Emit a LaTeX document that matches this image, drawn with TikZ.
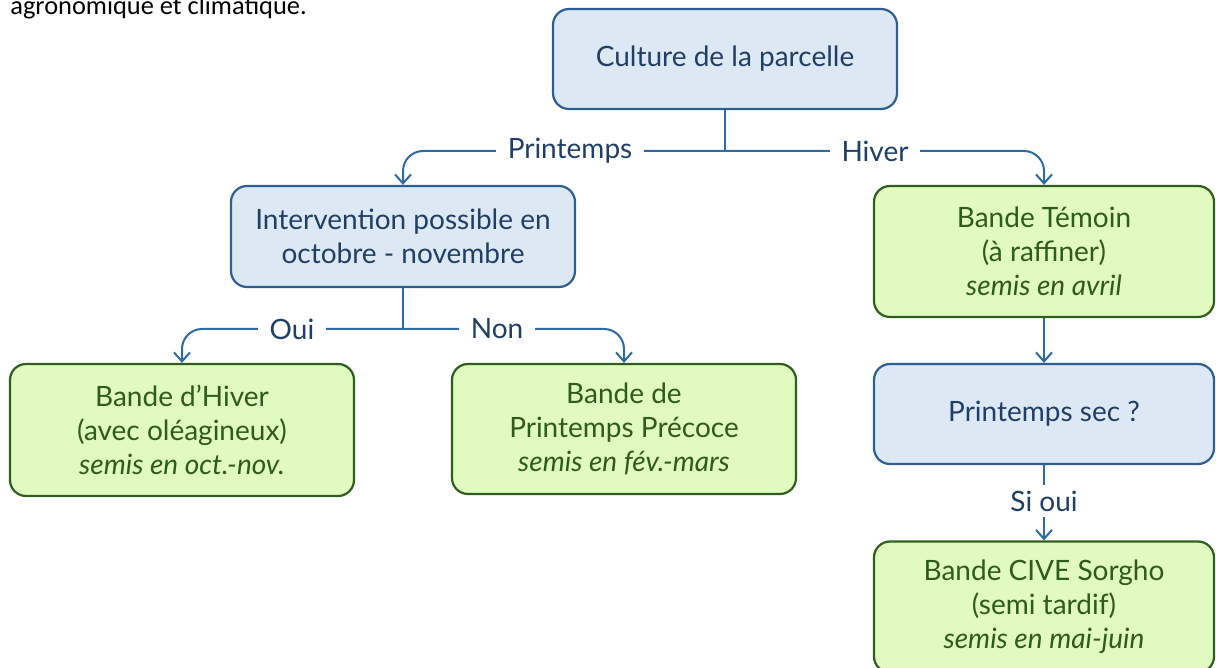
\documentclass[tikz,border=0pt]{standalone}
\usepackage{fontspec}
\setmainfont{Lato}
\newfontfamily\docfont{Carlito}
\usetikzlibrary{arrows.meta}
\definecolor{bfill}{HTML}{DCE9F5}
\definecolor{bdraw}{HTML}{2E5F92}
\definecolor{btext}{HTML}{1F3F66}
\definecolor{gfill}{HTML}{E0FAC0}
\definecolor{gdraw}{HTML}{2F5F1F}
\definecolor{gtext}{HTML}{2E5B1E}
\definecolor{conncol}{HTML}{2E6AA8}
\tikzset{
  box/.style={rectangle, rounded corners=8pt, line width=1.1pt, align=center,
    font=\fontsize{14}{17}\selectfont, inner sep=0pt},
  bluebox/.style={box, fill=bfill, draw=bdraw, text=btext},
  greenbox/.style={box, fill=gfill, draw=gdraw, text=gtext},
  conn/.style={draw=conncol, line width=1pt},
  arr/.style={conn, -{Straight Barb[length=4.5pt,width=8pt]}},
  lbl/.style={fill=white, text=btext, font=\fontsize{14}{17}\selectfont, inner xsep=6pt, inner ysep=1pt}
}
\begin{document}
\begin{tikzpicture}[x=0.5pt,y=-0.5pt]
\useasboundingbox (0,0) rectangle (1216,668);
\node[anchor=base west, inner sep=0pt, font=\docfont\fontsize{13.2}{15}\selectfont] (doc) at (10,15) {agronomique et climatique.};
\node[bluebox, minimum width=172pt, minimum height=50pt] (cult) at (725,59) {Culture de la parcelle};
\node[bluebox, minimum width=172pt, minimum height=50.5pt] (intv) at (403,236.5) {Intervention possible en\\octobre - novembre};
\node[greenbox, minimum width=170pt, minimum height=65.5pt] (temoin) at (1044,251.5) {Bande Témoin\\(à raffiner)\\\textit{semis en avril}};
\node[bluebox, minimum width=170pt, minimum height=50pt] (sec) at (1044,414) {Printemps sec ?};
\node[greenbox, minimum width=172pt, minimum height=66pt] (hiver) at (182,430) {Bande d’Hiver\\(avec oléagineux)\\\textit{semis en oct.-nov.}};
\node[greenbox, minimum width=172pt, minimum height=65pt] (precoce) at (624,429) {Bande de\\Printemps Précoce\\\textit{semis en fév.-mars}};
\node[greenbox, minimum width=170pt, minimum height=65.5pt] (cive) at (1044,607) {Bande CIVE Sorgho\\(semi tardif)\\\textit{semis en mai-juin}};
\coordinate (j1) at (725,151);
\coordinate (j2) at (403,329);
\draw[conn] (cult.south) -- (j1);
\draw[arr, rounded corners=10pt] (j1) -| (intv.north);
\draw[arr, rounded corners=10pt] (j1) -| (temoin.north);
\node[lbl] (lp) at (570,151) {Printemps};
\node[lbl] (lh) at (875,151) {Hiver};
\draw[conn] (intv.south) -- (j2);
\draw[arr, rounded corners=10pt] (j2) -| (hiver.north);
\draw[arr, rounded corners=10pt] (j2) -| (precoce.north);
\node[lbl] (lo) at (292,329) {Oui};
\node[lbl] (ln) at (497,329) {Non};
\draw[arr] (temoin.south) -- (sec.north);
\draw[arr] (sec.south) -- (cive.north);
\node[lbl, inner ysep=3pt, inner xsep=2pt] (ls) at (1044,501) {Si oui};
\end{tikzpicture}
\end{document}
